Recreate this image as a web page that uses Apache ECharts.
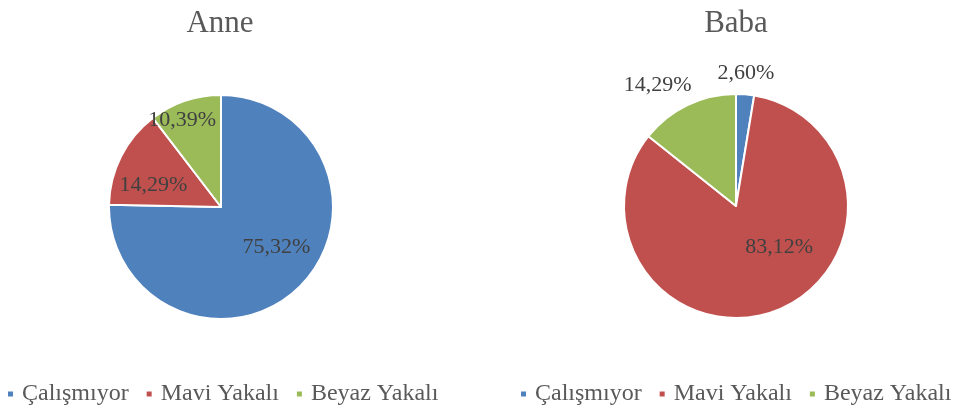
<!DOCTYPE html>
<html>
<head>
<meta charset="utf-8">
<script src="https://cdn.jsdelivr.net/npm/echarts@6/dist/echarts.min.js"></script>
<style>
html,body{margin:0;padding:0;background:#fff;}
#chart{width:968px;height:409px;}
</style>
</head>
<body>
<div id="chart"></div>
<script>
const categories = ['Çalışmıyor', 'Mavi Yakalı', 'Beyaz Yakalı'];
const anneValues = [75.32, 14.29, 10.39];
const babaValues = [2.60, 83.12, 14.29];
const chartTitles = ['Anne', 'Baba'];
const colors = ['#4F81BD', '#C0504D', '#9BBB59'];

const FONT = "'Liberation Serif', 'Times New Roman', serif";
const fmt = p => p.value.toFixed(2).replace('.', ',') + '%';

const anneLabels = [
  { position: 'inside', offset: [14, -2] },
  { position: 'inside', offset: [-15, 5] },
  { position: 'inside', offset: [-20, -31] }
];
const babaLabels = [
  { position: 'outside', offset: [-33, -17] },
  { position: 'inside', offset: [22, -14] },
  { position: 'outside', offset: [11, -16] }
];

function buildData(values, labels) {
  return categories.map((name, i) => ({
    name: name,
    value: values[i],
    itemStyle: { color: colors[i] },
    label: labels[i]
  }));
}

const baseSeries = {
  type: 'pie',
  radius: 112,
  startAngle: 90,
  clockwise: true,
  avoidLabelOverlap: false,
  animation: false,
  itemStyle: { borderColor: '#fff', borderWidth: 2 },
  label: {
    show: true,
    formatter: fmt,
    fontFamily: FONT,
    fontSize: 22,
    color: '#404040'
  },
  labelLine: { show: false, length: 4, length2: 0 },
  emphasis: { disabled: true }
};

const legendBase = {
  data: categories, top: 377, icon: 'rect', itemWidth: 7, itemHeight: 7, itemGap: 16,
  textStyle: { fontFamily: FONT, fontSize: 24, color: '#595959', padding: [0, 0, 0, 3] }
};

const chart = echarts.init(document.getElementById('chart'));
chart.setOption({
  backgroundColor: '#fff',
  title: [
    { text: chartTitles[0], left: 215, top: 3, textAlign: 'center',
      textStyle: { fontFamily: FONT, fontSize: 31, fontWeight: 'normal', color: '#595959' } },
    { text: chartTitles[1], left: 731, top: 3, textAlign: 'center',
      textStyle: { fontFamily: FONT, fontSize: 31, fontWeight: 'normal', color: '#595959' } }
  ],
  legend: [
    Object.assign({}, legendBase, { left: 1 }),
    Object.assign({}, legendBase, { left: 514 })
  ],
  series: [
    Object.assign({}, baseSeries, { name: chartTitles[0], center: [221, 207], data: buildData(anneValues, anneLabels) }),
    Object.assign({}, baseSeries, { name: chartTitles[1], center: [736, 206], data: buildData(babaValues, babaLabels) })
  ]
});
</script>
</body>
</html>
